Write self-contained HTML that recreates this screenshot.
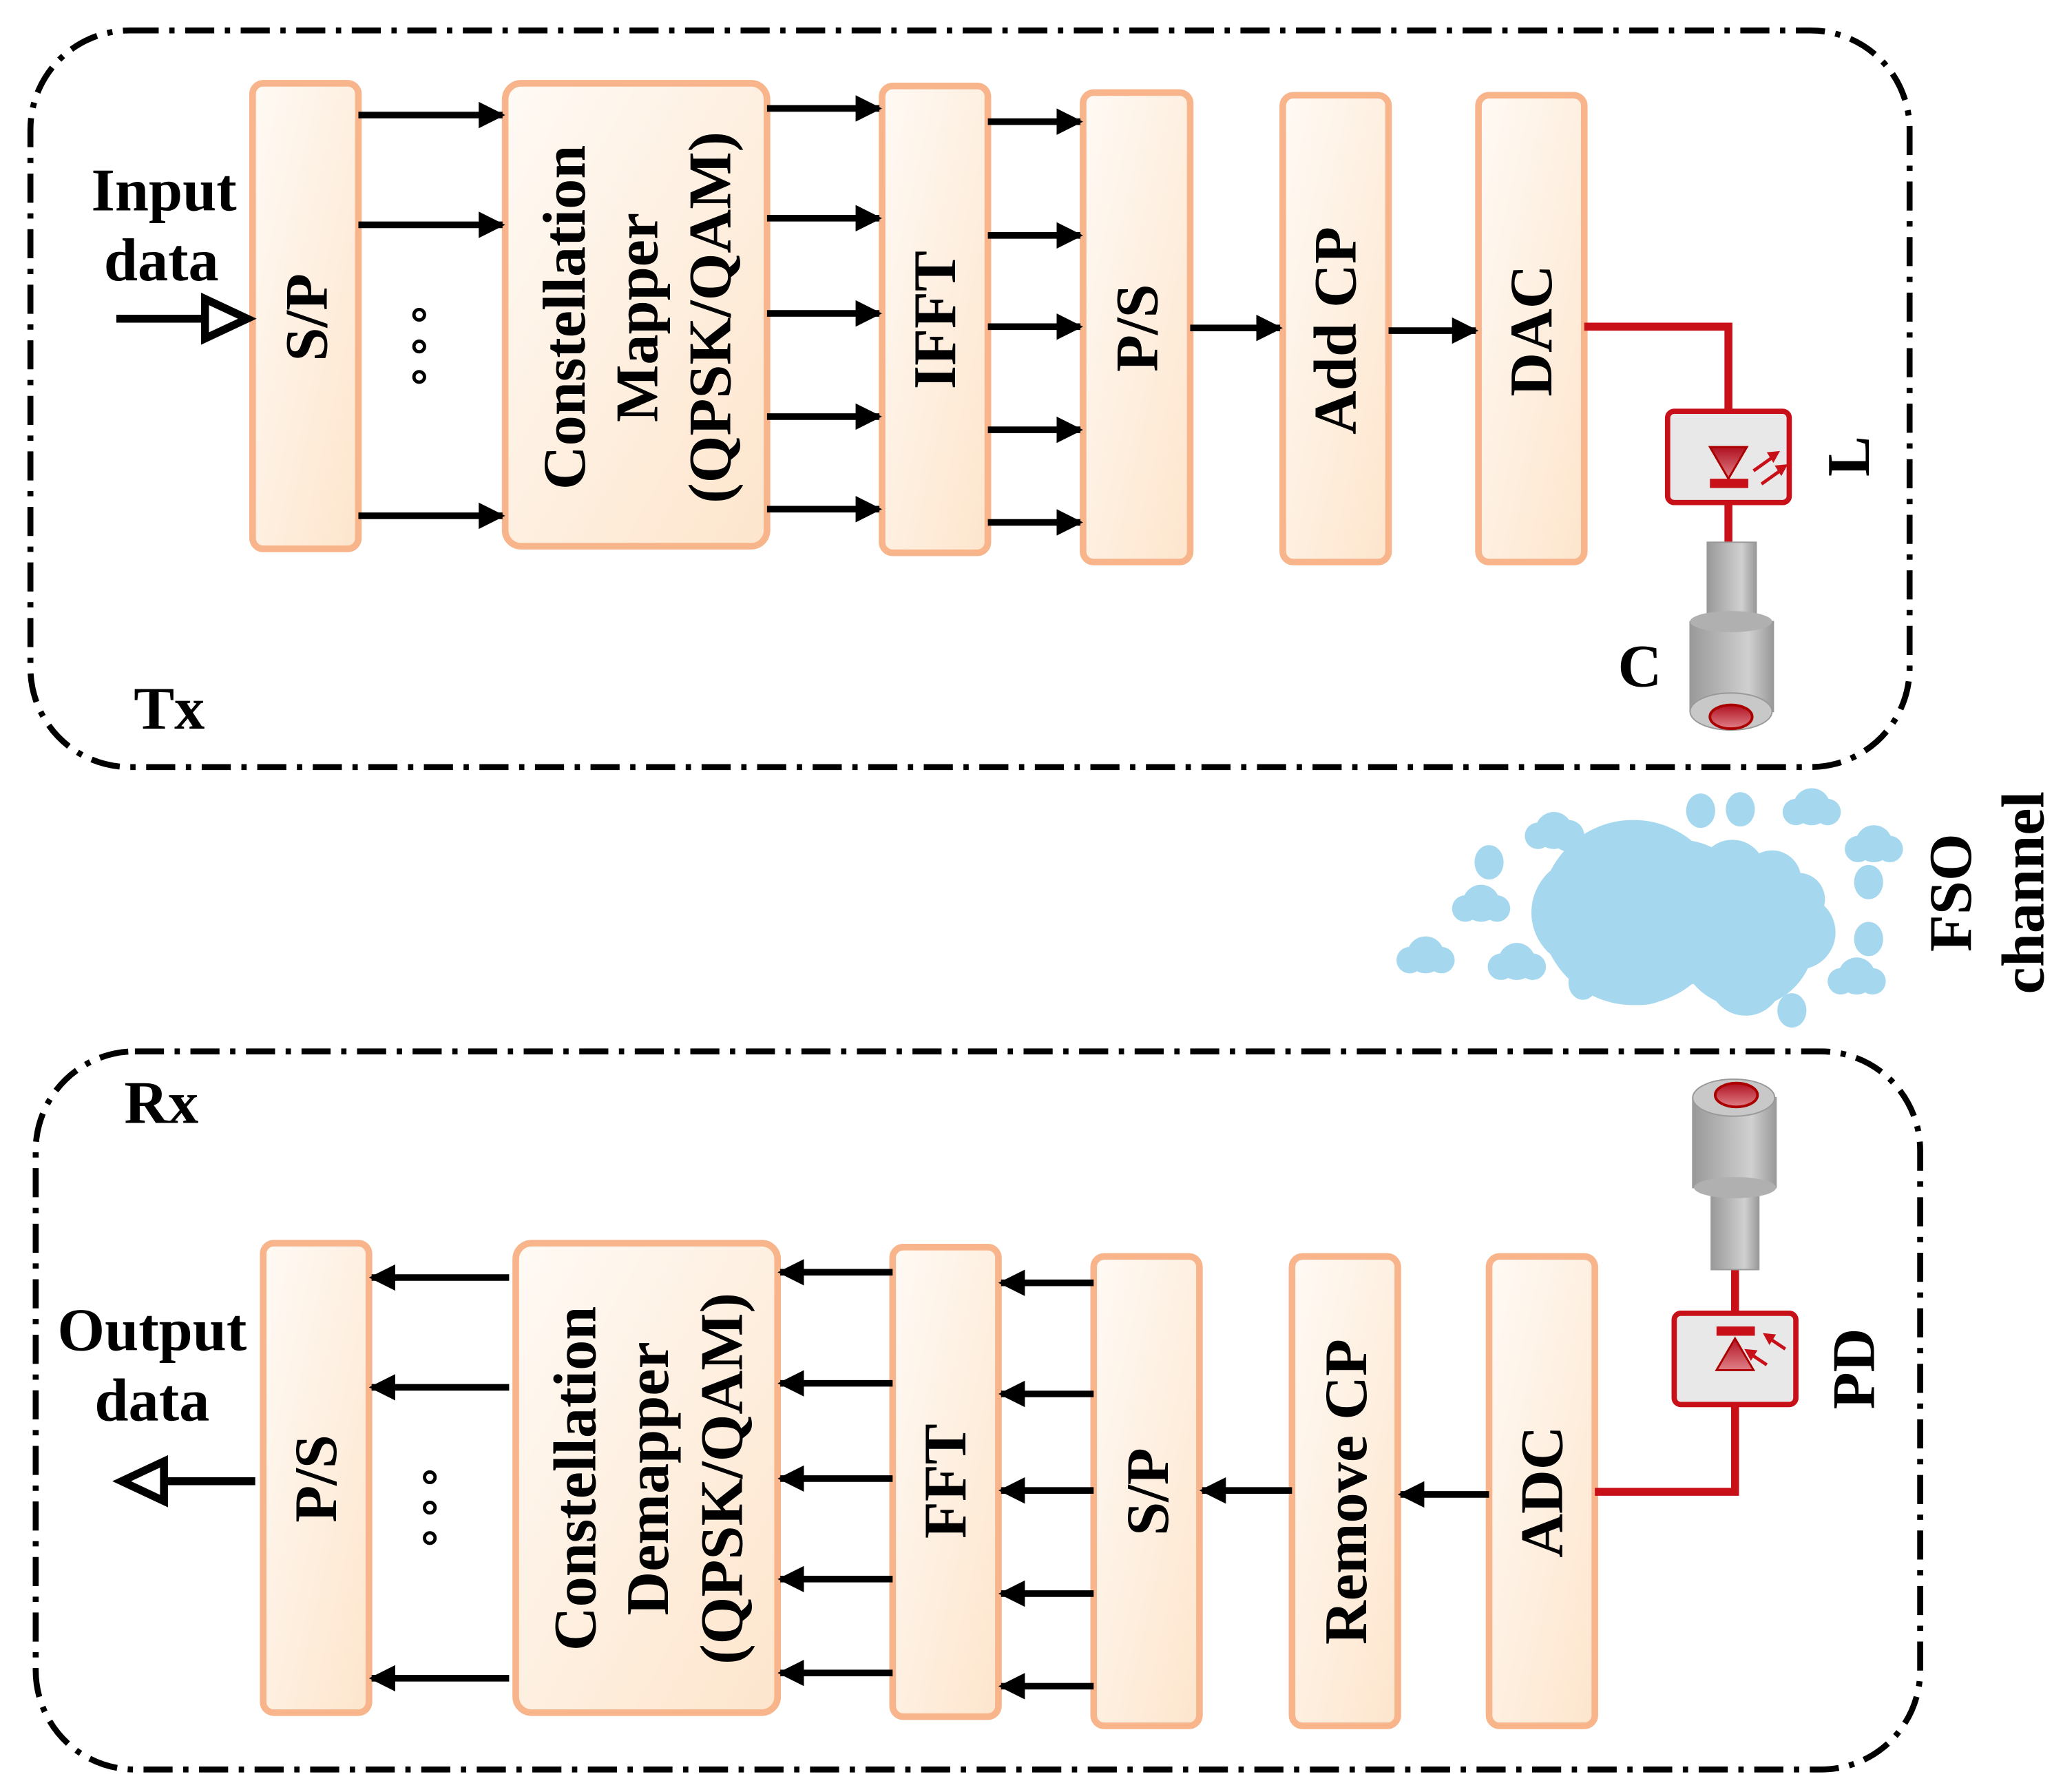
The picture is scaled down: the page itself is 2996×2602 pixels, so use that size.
<!DOCTYPE html>
<html><head><meta charset="utf-8"><style>html,body{margin:0;padding:0;background:#fff}svg{display:block}</style></head>
<body>
<svg width="2996" height="2602" viewBox="0 0 1560 1355" preserveAspectRatio="none" xmlns="http://www.w3.org/2000/svg" font-family="'Liberation Serif',serif" font-weight="bold">
<defs>
<linearGradient id="blk" x1="0" y1="0" x2="1" y2="1"><stop offset="0" stop-color="#fffaf5"/><stop offset="1" stop-color="#fde5cc"/></linearGradient>
<linearGradient id="cyl" x1="0" y1="0" x2="1" y2="0"><stop offset="0" stop-color="#999"/><stop offset="0.7" stop-color="#d0d0d0"/><stop offset="1" stop-color="#999"/></linearGradient>
<linearGradient id="red" x1="0" y1="0" x2="0" y2="1"><stop offset="0" stop-color="#b01020"/><stop offset="1" stop-color="#e08088"/></linearGradient>
<marker id="ah" viewBox="0 0 10 10" refX="9" refY="5" markerWidth="4" markerHeight="4" orient="auto" markerUnits="strokeWidth"><path d="M0,0 L10,5 L0,10 z" fill="#000"/></marker>
</defs>
<g fill="none" stroke="#000" stroke-width="4.5" stroke-dasharray="22,8,4,8">
<rect x="23" y="23" width="1421" height="557" rx="75"/>
<rect x="27" y="795" width="1425" height="543" rx="75"/>
</g>
<g fill="url(#blk)" stroke="#f8b48a" stroke-width="5">
<rect x="191" y="63" width="80" height="352" rx="8"/>
<rect x="382" y="63" width="198" height="350" rx="12"/>
<rect x="667" y="65" width="80" height="353" rx="8"/>
<rect x="819" y="70" width="81" height="355" rx="8"/>
<rect x="970" y="72" width="80" height="353" rx="8"/>
<rect x="1118" y="72" width="80" height="353" rx="8"/>
<rect x="199" y="940" width="80" height="355" rx="8"/>
<rect x="390" y="940" width="198" height="355" rx="12"/>
<rect x="675" y="943" width="80" height="355" rx="8"/>
<rect x="827" y="950" width="80" height="355" rx="8"/>
<rect x="977" y="950" width="80" height="355" rx="8"/>
<rect x="1126" y="950" width="80" height="355" rx="8"/>
</g>
<g stroke="#000" stroke-width="5" marker-end="url(#ah)">
<line x1="271" y1="87" x2="380" y2="87"/><line x1="271" y1="170" x2="380" y2="170"/><line x1="271" y1="390" x2="380" y2="390"/>
<line x1="580" y1="82" x2="665" y2="82"/><line x1="580" y1="165" x2="665" y2="165"/><line x1="580" y1="237" x2="665" y2="237"/><line x1="580" y1="315" x2="665" y2="315"/><line x1="580" y1="385" x2="665" y2="385"/>
<line x1="747" y1="92" x2="817" y2="92"/><line x1="747" y1="178" x2="817" y2="178"/><line x1="747" y1="247" x2="817" y2="247"/><line x1="747" y1="325" x2="817" y2="325"/><line x1="747" y1="395" x2="817" y2="395"/>
<line x1="900" y1="248" x2="968" y2="248"/><line x1="1050" y1="250" x2="1116" y2="250"/>
<line x1="385" y1="966" x2="281" y2="966"/><line x1="385" y1="1049" x2="281" y2="1049"/><line x1="385" y1="1269" x2="281" y2="1269"/>
<line x1="675" y1="962" x2="590" y2="962"/><line x1="675" y1="1046" x2="590" y2="1046"/><line x1="675" y1="1118" x2="590" y2="1118"/><line x1="675" y1="1194" x2="590" y2="1194"/><line x1="675" y1="1265" x2="590" y2="1265"/>
<line x1="827" y1="970" x2="757" y2="970"/><line x1="827" y1="1054" x2="757" y2="1054"/><line x1="827" y1="1127" x2="757" y2="1127"/><line x1="827" y1="1205" x2="757" y2="1205"/><line x1="827" y1="1275" x2="757" y2="1275"/>
<line x1="977" y1="1127" x2="909" y2="1127"/><line x1="1126" y1="1130" x2="1059" y2="1130"/>
</g>
<line x1="88" y1="241" x2="160" y2="241" stroke="#000" stroke-width="6"/>
<path d="M155,226 L187,241 L155,256 z" fill="#fff" stroke="#000" stroke-width="6"/>
<line x1="193" y1="1120" x2="120" y2="1120" stroke="#000" stroke-width="6"/>
<path d="M124,1105 L92,1120 L124,1135 z" fill="#fff" stroke="#000" stroke-width="6"/>
<g fill="none" stroke="#000" stroke-width="2.5">
<circle cx="317" cy="238" r="4"/><circle cx="317" cy="262" r="4"/><circle cx="317" cy="285" r="4"/>
<circle cx="325" cy="1117" r="4"/><circle cx="325" cy="1140" r="4"/><circle cx="325" cy="1163" r="4"/>
</g>
<g stroke="#c81018" stroke-width="6" fill="none">
<polyline points="1198,247 1307,247 1307,412"/>
<polyline points="1206,1128 1312,1128 1312,960"/>
</g>
<rect x="1261" y="311" width="92" height="69" rx="5" fill="#e8e8e8" stroke="#c81018" stroke-width="4"/>
<path d="M1293,338 L1321,338 L1307,362 z" fill="url(#red)" stroke="#a00" stroke-width="1.5"/>
<rect x="1293" y="362" width="29" height="7" fill="#c81018"/>
<g stroke="#c81018" stroke-width="2.5"><line x1="1326" y1="356" x2="1340" y2="346"/><line x1="1332" y1="366" x2="1346" y2="356"/></g>
<path d="M1336,342 L1346,341 L1341,350 z M1342,352 L1352,351 L1347,360 z" fill="#c81018"/>
<rect x="1291" y="410" width="37" height="60" fill="url(#cyl)" stroke="#999"/>
<rect x="1278" y="470" width="63" height="68" fill="url(#cyl)" stroke="#999"/>
<ellipse cx="1309" cy="470" rx="31" ry="8" fill="#b0b0b0"/>
<ellipse cx="1309" cy="538" rx="31" ry="14" fill="#c8c8c8" stroke="#999"/>
<ellipse cx="1309" cy="542" rx="16" ry="9" fill="url(#red)" stroke="#a00" stroke-width="2"/>
<rect x="1280" y="830" width="63" height="68" fill="url(#cyl)" stroke="#999"/>
<ellipse cx="1311" cy="830" rx="31" ry="14" fill="#c8c8c8" stroke="#999"/>
<ellipse cx="1313" cy="828" rx="16" ry="9" fill="url(#red)" stroke="#a00" stroke-width="2"/>
<rect x="1294" y="898" width="36" height="62" fill="url(#cyl)" stroke="#999"/>
<ellipse cx="1312" cy="898" rx="31" ry="8" fill="#b0b0b0"/>
<rect x="1266" y="993" width="92" height="69" rx="5" fill="#e8e8e8" stroke="#c81018" stroke-width="4"/>
<rect x="1298" y="1003" width="29" height="7" fill="#c81018"/>
<path d="M1298,1036 L1326,1036 L1312,1012 z" fill="url(#red)" stroke="#a00" stroke-width="1.5"/>
<g stroke="#c81018" stroke-width="2.5"><line x1="1350" y1="1020" x2="1338" y2="1012"/><line x1="1336" y1="1032" x2="1324" y2="1024"/></g>
<path d="M1333,1008 L1343,1009 L1338,1017 z M1319,1020 L1329,1021 L1324,1029 z" fill="#c81018"/>
<g fill="#a5d8ee">
<circle cx="1235" cy="690" r="70"/><circle cx="1200" cy="690" r="42"/><circle cx="1270" cy="690" r="55"/><circle cx="1240" cy="720" r="40"/>
<circle cx="1320" cy="710" r="52"/><circle cx="1290" cy="710" r="30"/><circle cx="1360" cy="705" r="28"/><circle cx="1320" cy="740" r="28"/>
<circle cx="1310" cy="660" r="25"/><circle cx="1340" cy="665" r="22"/><circle cx="1360" cy="680" r="20"/>
<circle cx="1175" cy="628" r="14"/><circle cx="1186" cy="632" r="12"/><circle cx="1163" cy="632" r="10"/>
<circle cx="1120" cy="683" r="14"/><circle cx="1108" cy="687" r="10"/><circle cx="1132" cy="687" r="10"/>
<circle cx="1078" cy="722" r="14"/><circle cx="1066" cy="726" r="10"/><circle cx="1090" cy="726" r="10"/>
<circle cx="1147" cy="727" r="14"/><circle cx="1135" cy="731" r="10"/><circle cx="1159" cy="731" r="10"/>
<circle cx="1370" cy="610" r="14"/><circle cx="1358" cy="614" r="10"/><circle cx="1382" cy="614" r="10"/>
<circle cx="1417" cy="638" r="14"/><circle cx="1405" cy="642" r="10"/><circle cx="1429" cy="642" r="10"/>
<circle cx="1404" cy="738" r="14"/><circle cx="1392" cy="742" r="10"/><circle cx="1416" cy="742" r="10"/>
<ellipse cx="1126" cy="652" rx="11" ry="13"/><ellipse cx="1286" cy="613" rx="11" ry="13"/><ellipse cx="1316" cy="612" rx="11" ry="13"/>
<ellipse cx="1413" cy="667" rx="11" ry="13"/><ellipse cx="1413" cy="710" rx="11" ry="13"/><ellipse cx="1197" cy="743" rx="11" ry="13"/>
<ellipse cx="1320" cy="754" rx="11" ry="13"/><ellipse cx="1355" cy="764" rx="11" ry="13"/>
</g>
<g fill="#000" font-size="46" text-anchor="middle">
<text x="124" y="159">Input</text><text x="122" y="212">data</text>
<text x="115" y="1021">Output</text><text x="115" y="1074">data</text>
<text x="128" y="551">Tx</text><text x="122" y="849">Rx</text>
<text x="1240" y="519">C</text>
</g>
<g fill="#000" font-size="46" text-anchor="middle" dominant-baseline="central">
<text transform="translate(232,240) rotate(-90)">S/P</text>
<text transform="translate(427,240) rotate(-90)">Constellation</text>
<text transform="translate(482,240) rotate(-90)">Mapper</text>
<text transform="translate(537,240) rotate(-90)">(QPSK/QAM)</text>
<text transform="translate(707,242) rotate(-90)">IFFT</text>
<text transform="translate(860,248) rotate(-90)">P/S</text>
<text transform="translate(1010,250) rotate(-90)">Add CP</text>
<text transform="translate(1158,250) rotate(-90)">DAC</text>
<text transform="translate(1398,345) rotate(-90)">L</text>
<text transform="translate(1475,675) rotate(-90)">FSO</text>
<text transform="translate(1530,675) rotate(-90)">channel</text>
<text transform="translate(239,1118) rotate(-90)">P/S</text>
<text transform="translate(435,1118) rotate(-90)">Constellation</text>
<text transform="translate(490,1118) rotate(-90)">Demapper</text>
<text transform="translate(546,1118) rotate(-90)">(QPSK/QAM)</text>
<text transform="translate(715,1120) rotate(-90)">FFT</text>
<text transform="translate(868,1128) rotate(-90)">S/P</text>
<text transform="translate(1018,1128) rotate(-90)">Remove CP</text>
<text transform="translate(1166,1128) rotate(-90)">ADC</text>
<text transform="translate(1402,1035) rotate(-90)">PD</text>
</g>
</svg>
</body></html>
